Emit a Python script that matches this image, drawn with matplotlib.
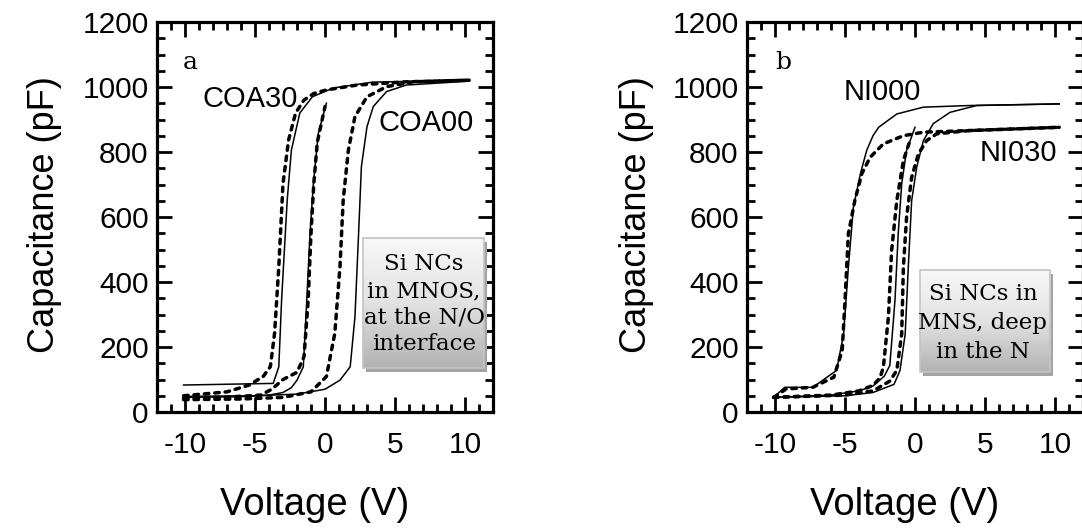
import numpy as np
import matplotlib
matplotlib.use("Agg")
import matplotlib.pyplot as plt
from matplotlib.patches import Rectangle
from matplotlib.ticker import MultipleLocator
from matplotlib.colors import LinearSegmentedColormap
import matplotlib.transforms as mtransforms

plt.rcParams['font.family'] = ['Liberation Sans', 'DejaVu Sans']
plt.rcParams['axes.unicode_minus'] = False

# ---------------- panel a: COA30 / COA00 C-V sweeps ----------------
a_solid_left_v = [-10.1, -3.7, -3.3, -3.1, -2.7, -2.4, -1.8, -0.9, 0.6, 3.4, 10.3]
a_solid_left_c = [83, 88, 139, 345, 652, 806, 920, 970, 997, 1015, 1021]

a_dash_left_v = [-10.1, -7.0, -5.4, -4.4, -3.9, -3.6, -3.3, -3.0, -2.6, -2.1, -1.5, -0.8, 0.1, 2.3, 5.8, 10.3]
a_dash_left_c = [50, 62, 83, 110, 140, 243, 447, 703, 837, 920, 960, 980, 991, 1006, 1016, 1021]

a_solid_mid_v = [-10.1, -6.0, -4.0, -3.0, -2.4, -2.0, -1.55, -1.3, -1.07, -0.83, -0.48, 0.1]
a_solid_mid_c = [45, 47, 52, 60, 75, 98, 139, 345, 550, 703, 857, 950]

a_dash_mid_v = [-10.1, -7.0, -4.6, -3.8, -3.0, -2.0, -1.5, -1.2, -1.0, -0.8, -0.55, -0.2, 0.0]
a_dash_mid_c = [43, 46, 52, 70, 100, 122, 170, 345, 550, 703, 830, 900, 940]

a_dash_right_v = [-10.1, -6.0, -3.0, -1.0, 0.1, 0.7, 1.07, 1.3, 1.67, 2.14, 3.0, 4.4, 6.3, 10.3]
a_dash_right_c = [38, 40, 45, 62, 109, 242, 447, 652, 806, 909, 970, 1001, 1016, 1021]

a_solid_right_v = [-10.1, -5.0, -2.0, 0.0, 1.07, 1.8, 2.14, 2.4, 2.6, 3.0, 3.45, 4.4, 5.8, 10.3]
a_solid_right_c = [48, 50, 55, 70, 98, 139, 293, 550, 755, 878, 940, 986, 1006, 1018]

# ---------------- panel b: NI000 / NI030 C-V sweeps ----------------
b_solid_left_v = [-10.1, -9.3, -7.3, -5.6, -5.1, -4.76, -4.4, -3.9, -3.45, -3.0, -2.6, -1.3, 0.6, 3.9, 10.3]
b_solid_left_c = [45, 76, 76, 128, 240, 445, 630, 733, 805, 850, 876, 917, 938, 943, 948]

b_dash_left_v = [-10.1, -9.2, -7.3, -5.8, -5.2, -5.0, -4.76, -4.3, -3.8, -3.2, -2.26, -0.83, 0.6, 3.9, 10.3]
b_dash_left_c = [45, 71, 76, 107, 189, 343, 548, 650, 733, 784, 825, 850, 861, 866, 876]

b_solid_mid_v = [-10.1, -6.0, -4.0, -3.0, -2.2, -1.8, -1.43, -1.2, -0.95, -0.6, 0.0]
b_solid_mid_c = [45, 52, 65, 80, 110, 143, 343, 548, 702, 805, 876]

b_dash_mid_v = [-10.1, -6.0, -4.0, -3.0, -2.5, -2.26, -1.9, -1.67, -1.3, -0.83, -0.36]
b_dash_mid_c = [45, 52, 65, 82, 105, 138, 292, 497, 650, 774, 835]

b_solid_right_v = [-10.1, -5.0, -3.0, -1.5, -1.07, -0.7, -0.48, -0.24, 0.12, 0.6, 1.3, 2.5, 4.4, 10.3]
b_solid_right_c = [45, 50, 60, 85, 128, 240, 445, 650, 753, 835, 887, 922, 943, 948]

b_dash_right_v = [-10.1, -5.0, -3.0, -1.8, -1.3, -0.95, -0.83, -0.6, -0.24, 0.24, 0.83, 1.55, 3.9, 10.3]
b_dash_right_c = [45, 52, 65, 95, 128, 240, 445, 600, 722, 794, 835, 856, 866, 876]

x_ticks = [-10, -5, 0, 5, 10]
y_ticks = [0, 200, 400, 600, 800, 1000, 1200]

W, H = 1082, 532
fig = plt.figure(figsize=(W / 100, H / 100), dpi=100)


def axes_px(x0, y0, x1, y1):
    return fig.add_axes([x0 / W, 1 - y1 / H, (x1 - x0) / W, (y1 - y0) / H])


ax_a = axes_px(157, 22, 493, 412)
ax_b = axes_px(747, 22, 1083, 412)

SOLID = dict(color='black', lw=1.1, solid_joinstyle='round', zorder=3)
DASH = dict(color='black', lw=2.5, dashes=(1.3, 1.7), dash_capstyle='round', zorder=3)


def draw_curves(ax, pairs):
    for v, c, style in pairs:
        ax.plot(v, c, **style)


draw_curves(ax_a, [
    (a_solid_left_v, a_solid_left_c, SOLID),
    (a_dash_left_v, a_dash_left_c, DASH),
    (a_solid_mid_v, a_solid_mid_c, SOLID),
    (a_dash_mid_v, a_dash_mid_c, DASH),
    (a_dash_right_v, a_dash_right_c, DASH),
    (a_solid_right_v, a_solid_right_c, SOLID),
])
draw_curves(ax_b, [
    (b_solid_left_v, b_solid_left_c, SOLID),
    (b_dash_left_v, b_dash_left_c, DASH),
    (b_solid_mid_v, b_solid_mid_c, SOLID),
    (b_dash_mid_v, b_dash_mid_c, DASH),
    (b_solid_right_v, b_solid_right_c, SOLID),
    (b_dash_right_v, b_dash_right_c, DASH),
])

grey_ramp = LinearSegmentedColormap.from_list('ramp', ['#f8f8f8', '#e2e2e2', '#b2b2b2'])


def note_box(ax, x0, y0, x1, y1, text, cx, cy, spacing):
    shadow_tr = mtransforms.offset_copy(ax.transAxes, fig=fig, x=3, y=-4, units='dots')
    ax.add_patch(Rectangle((x0, y0), x1 - x0, y1 - y0, transform=shadow_tr,
                           facecolor='#a4a4a4', edgecolor='none', zorder=4))
    grad = np.linspace(0, 1, 256).reshape(-1, 1)
    ax.imshow(grad, cmap=grey_ramp, extent=(x0, x1, y0, y1), transform=ax.transAxes,
              aspect='auto', origin='upper', zorder=5, interpolation='bilinear')
    ax.add_patch(Rectangle((x0, y0), x1 - x0, y1 - y0, transform=ax.transAxes,
                           facecolor='none', edgecolor='#c4c4c4', lw=1.2, zorder=6))
    ax.text(cx, cy, text, transform=ax.transAxes, ha='center', va='center',
            multialignment='center', family='DejaVu Serif', fontsize=16.5,
            linespacing=spacing, zorder=7)


note_box(ax_a, 0.613, 0.113, 0.973, 0.446,
         'Si NCs\nin MNOS,\nat the N/O\ninterface', 0.795, 0.276, 1.27)
note_box(ax_b, 0.515, 0.103, 0.902, 0.364,
         'Si NCs in\nMNS, deep\nin the N', 0.702, 0.228, 1.42)

ax_a.text(-5.36, 963, 'COA30', ha='center', va='center', fontsize=21)
ax_a.text(7.2, 889, 'COA00', ha='center', va='center', fontsize=21)
ax_b.text(-2.3, 986, 'NI000', ha='center', va='center', fontsize=21)
ax_b.text(7.36, 798, 'NI030', ha='center', va='center', fontsize=21)

ax_a.text(0.098, 0.897, 'a', transform=ax_a.transAxes, ha='center', va='center',
          family='DejaVu Serif', fontsize=18)
ax_b.text(0.107, 0.895, 'b', transform=ax_b.transAxes, ha='center', va='center',
          family='DejaVu Serif', fontsize=18)

for ax in (ax_a, ax_b):
    ax.set_xlim(-12, 12)
    ax.set_ylim(0, 1200)
    ax.set_xticks(x_ticks)
    ax.set_yticks(y_ticks)
    ax.xaxis.set_minor_locator(MultipleLocator(1))
    ax.yaxis.set_minor_locator(MultipleLocator(50))
    ax.tick_params(which='both', direction='in', top=True, right=True, width=2.0, color='black')
    ax.tick_params(which='major', length=11)
    ax.tick_params(which='minor', length=6)
    ax.tick_params(axis='x', which='major', pad=14, labelsize=21.5)
    ax.tick_params(axis='y', which='major', pad=6, labelsize=21.5)
    for sp in ax.spines.values():
        sp.set_linewidth(2.3)

for cx in (45, 636):
    fig.text(cx / W, 1 - 215 / H, 'Capacitance (pF)', rotation=90, ha='center',
             va='center', fontsize=26)
for cx in (315, 905):
    fig.text(cx / W, 1 - 505 / H, 'Voltage (V)', ha='center', va='center', fontsize=27.5)

fig.savefig('out.png', dpi=100)
